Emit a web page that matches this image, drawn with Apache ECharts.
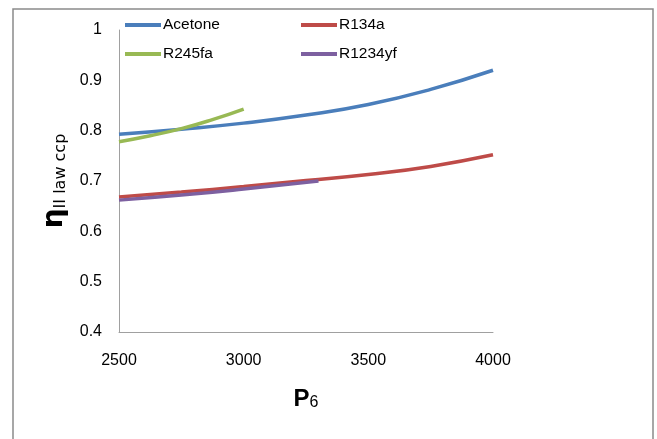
<!DOCTYPE html>
<html><head><meta charset="utf-8">
<script src="https://cdn.jsdelivr.net/npm/echarts@6/dist/echarts.min.js"></script>
<style>html,body{margin:0;padding:0;background:#fff}#c{width:657px;height:439px}</style>
</head><body><div id="c"></div>
<script>
const seriesNames = ['Acetone', 'R134a', 'R245fa', 'R1234yf'];
const colors = ['#4A7EBB', '#BE4B48', '#98B954', '#7D60A0'];

const acetoneP = [2500, 2750, 3000, 3250, 3500, 3750, 4000];
const acetoneEta = [0.793, 0.803, 0.815, 0.831, 0.852, 0.882, 0.920];

const r134aP = [2500, 2750, 3000, 3250, 3500, 3750, 4000];
const r134aEta = [0.668, 0.678, 0.689, 0.701, 0.713, 0.729, 0.752];

const r245faP = [2500, 2625, 2750, 2875, 3000];
const r245faEta = [0.778, 0.790, 0.804, 0.822, 0.843];

const r1234yfP = [2500, 2750, 3000, 3300];
const r1234yfEta = [0.662, 0.672, 0.684, 0.700];

const xTicks = [2500, 3000, 3500, 4000];
const yTicks = [0.4, 0.5, 0.6, 0.7, 0.8, 0.9, 1];

const font = '"Liberation Sans", Arial, sans-serif';

function pairs(xs, ys) { return xs.map((x, i) => [x, ys[i]]); }
const allData = [pairs(acetoneP, acetoneEta), pairs(r134aP, r134aEta), pairs(r245faP, r245faEta), pairs(r1234yfP, r1234yfEta)];

const legendPos = [[125, 17], [301, 17], [125, 46], [301, 46]];

const chart = echarts.init(document.getElementById('c'), null, {renderer: 'canvas'});
chart.setOption({
  animation: false,
  backgroundColor: '#fff',
  graphic: [{
    type: 'rect', shape: {x: 13, y: 9, width: 640, height: 440},
    style: {fill: 'none', stroke: '#8a8a8a', lineWidth: 1.5}, z: -1
  }],
  legend: seriesNames.map((n, i) => ({
    data: [n], left: legendPos[i][0], top: legendPos[i][1], padding: 0,
    icon: 'rect', itemWidth: 36, itemHeight: 4,
    textStyle: {fontFamily: font, fontSize: 15.5, color: '#000', padding: [0, 0, 0, -3]}
  })),
  grid: {left: 119, right: 164, top: 30, bottom: 107, containLabel: false},
  xAxis: {
    type: 'value', min: 2500, max: 4000, interval: 500,
    axisLine: {show: true, lineStyle: {color: '#a0a0a0', width: 1}},
    axisTick: {show: false}, splitLine: {show: false},
    axisLabel: {fontFamily: font, fontSize: 16, color: '#000', margin: 21,
      formatter: v => xTicks.includes(v) ? String(v) : ''},
    name: '{p|P}{s|6}', nameLocation: 'middle', nameGap: 55,
    nameTextStyle: {rich: {
      p: {fontFamily: font, fontSize: 24, fontWeight: 'bold', color: '#000', verticalAlign: 'bottom', lineHeight: 24},
      s: {fontFamily: font, fontSize: 16, color: '#000', verticalAlign: 'bottom', lineHeight: 22}
    }}
  },
  yAxis: {
    type: 'value', min: 0.4, max: 1, interval: 0.1,
    axisLine: {show: true, lineStyle: {color: '#a0a0a0', width: 1}},
    axisTick: {show: false}, splitLine: {show: false},
    axisLabel: {fontFamily: font, fontSize: 16, color: '#000', margin: 17,
      formatter: v => { const t = yTicks.find(y => Math.abs(y - v) < 1e-6); return t === undefined ? '' : String(t); }},
    name: '{e|η}{s|II law ccp}', nameLocation: 'middle', nameGap: 45, nameRotate: 90,
    nameTextStyle: {rich: {
      e: {fontFamily: '"DejaVu Sans", sans-serif', fontSize: 28, fontWeight: 'bold', color: '#000', verticalAlign: 'bottom', lineHeight: 30},
      s: {fontFamily: '"DejaVu Sans", sans-serif', fontSize: 16, color: '#000', verticalAlign: 'bottom', lineHeight: 23}
    }}
  },
  series: seriesNames.map((n, i) => ({
    name: n, type: 'line', data: allData[i], smooth: true, symbol: 'none',
    lineStyle: {color: colors[i], width: 3.5}, itemStyle: {color: colors[i]}
  }))
});
</script></body></html>
